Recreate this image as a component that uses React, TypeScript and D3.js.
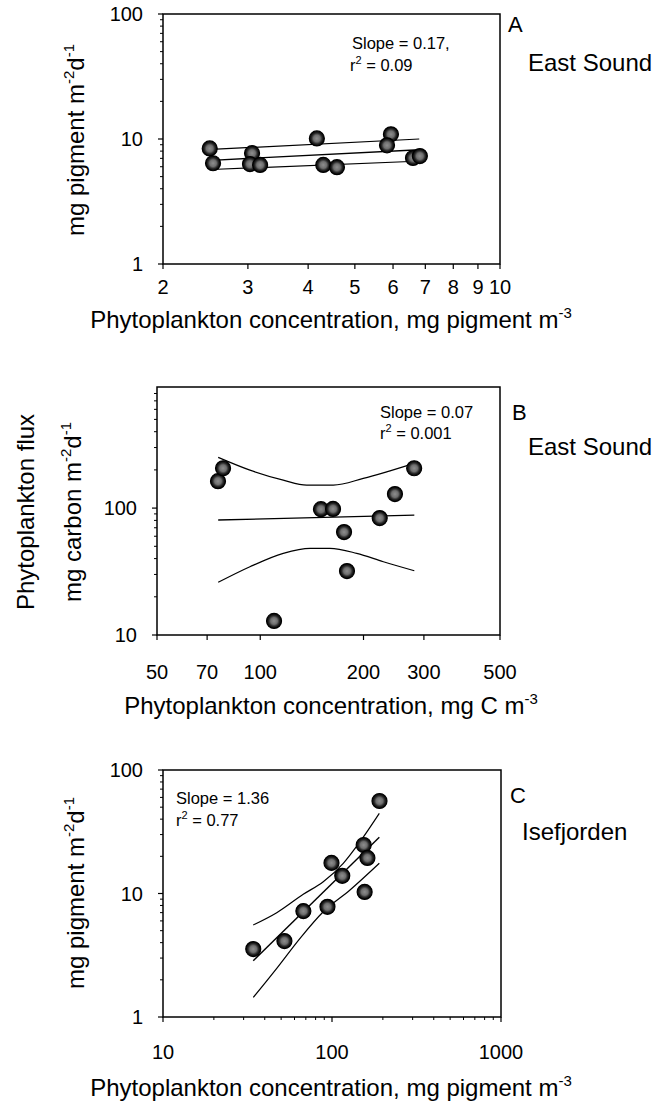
import React from "react";
import * as d3 from "d3";

// ---- Panel A: East Sound, pigment flux vs. pigment concentration ----
const aConc = [2.5, 2.54, 3.06, 3.03, 3.18, 4.17, 4.3, 4.59, 5.94, 5.83, 6.6, 6.82];
const aFlux = [8.4, 6.4, 7.7, 6.3, 6.2, 10.1, 6.2, 5.95, 10.9, 8.9, 7.05, 7.3];
const aFitX = [2.52, 6.8];
const aFitY = [6.75, 8.2];
const aUpperX = [2.52, 6.8];
const aUpperY = [8.25, 10.0];
const aLowerX = [2.52, 6.9];
const aLowerY = [5.7, 6.67];
const aXTicks = [2, 3, 4, 5, 6, 7, 8, 9, 10];
const aXLabels = ["2", "3", "4", "5", "6", "7", "8", "9", "10"];
const aYTicks = [1, 10, 100];
const aYLabels = ["1", "10", "100"];
const aYMinor = [2, 3, 4, 5, 6, 7, 8, 9, 20, 30, 40, 50, 60, 70, 80, 90];

// ---- Panel B: East Sound, carbon flux vs. carbon concentration ----
const bConc = [75.3, 77.9, 109.7, 150.3, 163, 175.5, 179, 223, 247, 281];
const bFlux = [163, 206, 12.9, 98, 98.5, 64.7, 31.9, 83.4, 129, 206];
const bFitX = [75.4, 281.3];
const bFitY = [80.5, 88.1];
const bUpperX = [75.4, 93.3, 116.7, 136.6, 163.3, 199.7, 239, 281.3];
const bUpperY = [250.8, 199, 166, 151.8, 151.8, 171.3, 196.7, 224.9];
const bLowerX = [75.4, 93.3, 116.7, 139.7, 159.6, 191.1, 228.5, 281.3];
const bLowerY = [26.0, 34.5, 44.0, 48.2, 48.2, 44.0, 37.8, 32.1];
const bXTicks = [50, 70, 100, 200, 300, 500];
const bXLabels = ["50", "70", "100", "200", "300", "500"];
const bYTicks = [10, 100];
const bYLabels = ["10", "100"];
const bYMinor = [20, 30, 40, 50, 60, 70, 80, 90, 200, 300, 400, 500, 600, 700, 800];

// ---- Panel C: Isefjorden, pigment flux vs. pigment concentration ----
const cConc = [34.2, 52.3, 67.7, 94, 99.3, 115, 154, 162, 156, 191];
const cFlux = [3.55, 4.12, 7.2, 7.8, 17.7, 13.9, 24.7, 19.4, 10.3, 56.1];
const cFitX = [34.2, 190.5];
const cFitY = [2.86, 28.5];
const cUpperX = [34.2, 47.1, 67.6, 88.8, 116.6, 146.5, 190.5];
const cUpperY = [5.56, 6.99, 9.85, 12.46, 17.56, 26.3, 44.6];
const cLowerX = [34.2, 47.1, 64.7, 88.8, 127.8, 190.5];
const cLowerY = [1.44, 2.48, 4.34, 7.12, 10.67, 17.56];
const cXTicks = [10, 100, 1000];
const cXLabels = ["10", "100", "1000"];
const cXMinor = [20, 30, 40, 50, 60, 70, 80, 90, 200, 300, 400, 500, 600, 700, 800, 900];
const cYTicks = [1, 10, 100];
const cYLabels = ["1", "10", "100"];
const cYMinor = [2, 3, 4, 5, 6, 7, 8, 9, 20, 30, 40, 50, 60, 70, 80, 90];

const FONT = "'Liberation Sans', Arial, Helvetica, sans-serif";

type Series = { x: number[]; y: number[] };

interface PanelProps {
  box: { left: number; right: number; top: number; bottom: number };
  xDomain: [number, number];
  yDomain: [number, number];
  conc: number[];
  flux: number[];
  fit: Series;
  upper: Series;
  lower: Series;
  xTicks: number[];
  xLabels: string[];
  xMinor: number[];
  yTicks: number[];
  yLabels: string[];
  yMinor: number[];
  xLabelY: number;
}

function Panel(p: PanelProps) {
  const { box } = p;
  const x = d3.scaleLog().domain(p.xDomain).range([box.left, box.right]);
  const y = d3.scaleLog().domain(p.yDomain).range([box.bottom, box.top]);
  const line = d3
    .line<[number, number]>()
    .x((d) => x(d[0]))
    .y((d) => y(d[1]))
    .curve(d3.curveMonotoneX);
  const path = (s: Series) => line(s.x.map((v, i) => [v, s.y[i]] as [number, number])) || "";

  return (
    <g>
      {/* frame */}
      <rect
        x={box.left}
        y={box.top}
        width={box.right - box.left}
        height={box.bottom - box.top}
        fill="none"
        stroke="#000"
        strokeWidth={1.5}
      />
      {/* x ticks */}
      {p.xTicks.map((t, i) => (
        <g key={"xt" + i}>
          <line x1={x(t)} x2={x(t)} y1={box.bottom} y2={box.bottom + 5} stroke="#000" strokeWidth={1.2} />
          <text x={x(t)} y={p.xLabelY} textAnchor="middle" fontSize={20} fontFamily={FONT}>
            {p.xLabels[i]}
          </text>
        </g>
      ))}
      {p.xMinor.map((t, i) => (
        <line key={"xm" + i} x1={x(t)} x2={x(t)} y1={box.bottom} y2={box.bottom + 3} stroke="#000" strokeWidth={1} />
      ))}
      {/* y ticks */}
      {p.yTicks.map((t, i) => (
        <g key={"yt" + i}>
          <line x1={box.left - 5} x2={box.left} y1={y(t)} y2={y(t)} stroke="#000" strokeWidth={1.2} />
          <text x={box.left - 20} y={y(t) + 7} textAnchor="end" fontSize={20} fontFamily={FONT}>
            {p.yLabels[i]}
          </text>
        </g>
      ))}
      {p.yMinor.map((t, i) => (
        <line key={"ym" + i} x1={box.left - 3} x2={box.left} y1={y(t)} y2={y(t)} stroke="#000" strokeWidth={1} />
      ))}
      {/* regression line and confidence band */}
      <path d={path(p.upper)} fill="none" stroke="#000" strokeWidth={1.2} />
      <path d={path(p.lower)} fill="none" stroke="#000" strokeWidth={1.2} />
      <path d={path(p.fit)} fill="none" stroke="#000" strokeWidth={1.4} />
      {/* observations */}
      {p.conc.map((c, i) => (
        <circle key={"pt" + i} cx={x(c)} cy={y(p.flux[i])} r={7.5} fill="url(#dotFill)" stroke="#000" strokeWidth={1.2} />
      ))}
    </g>
  );
}

export default function App() {
  const txt = { fontFamily: FONT, fill: "#000" } as const;
  return (
    <svg
      width={670}
      height={1108}
      viewBox="0 0 670 1108"
      style={{ position: "absolute", left: 0, top: 0, background: "#fff" }}
    >
      <defs>
        <radialGradient id="dotFill" cx="50%" cy="50%" r="50%">
          <stop offset="0%" stopColor="#8e8e8e" />
          <stop offset="45%" stopColor="#6e6e6e" />
          <stop offset="72%" stopColor="#262626" />
          <stop offset="100%" stopColor="#000" />
        </radialGradient>
      </defs>
      <rect width={670} height={1108} fill="#fff" />

      {/* Panel A */}
      <Panel
        box={{ left: 163, right: 500, top: 14, bottom: 264 }}
        xDomain={[2, 10]}
        yDomain={[1, 100]}
        conc={aConc}
        flux={aFlux}
        fit={{ x: aFitX, y: aFitY }}
        upper={{ x: aUpperX, y: aUpperY }}
        lower={{ x: aLowerX, y: aLowerY }}
        xTicks={aXTicks}
        xLabels={aXLabels}
        xMinor={[]}
        yTicks={aYTicks}
        yLabels={aYLabels}
        yMinor={aYMinor}
        xLabelY={294}
      />
      <text x={352} y={49} fontSize={16.5} {...txt}>Slope = 0.17,</text>
      <text x={350} y={71} fontSize={16.5} {...txt}>
        r<tspan dy={-7} fontSize={11}>2</tspan><tspan dy={7}> = 0.09</tspan>
      </text>
      <text x={508} y={32} fontSize={22} {...txt}>A</text>
      <text x={528} y={71} fontSize={24} {...txt}>East Sound</text>
      <text x={331} y={328} textAnchor="middle" fontSize={24} {...txt}>
        Phytoplankton concentration, mg pigment m<tspan dy={-10} fontSize={15}>-3</tspan>
      </text>
      <text transform="translate(84,140) rotate(-90)" textAnchor="middle" fontSize={24} {...txt}>
        mg pigment m<tspan dy={-10} fontSize={15}>-2</tspan><tspan dy={10}>d</tspan><tspan dy={-10} fontSize={15}>-1</tspan>
      </text>

      {/* Panel B */}
      <Panel
        box={{ left: 157, right: 500, top: 387, bottom: 635 }}
        xDomain={[50, 500]}
        yDomain={[10, 900]}
        conc={bConc}
        flux={bFlux}
        fit={{ x: bFitX, y: bFitY }}
        upper={{ x: bUpperX, y: bUpperY }}
        lower={{ x: bLowerX, y: bLowerY }}
        xTicks={bXTicks}
        xLabels={bXLabels}
        xMinor={[]}
        yTicks={bYTicks}
        yLabels={bYLabels}
        yMinor={bYMinor}
        xLabelY={679}
      />
      <text x={380} y={418} fontSize={16.5} {...txt}>Slope = 0.07</text>
      <text x={380} y={439} fontSize={16.5} {...txt}>
        r<tspan dy={-7} fontSize={11}>2</tspan><tspan dy={7}> = 0.001</tspan>
      </text>
      <text x={512} y={420} fontSize={22} {...txt}>B</text>
      <text x={528} y={455} fontSize={24} {...txt}>East Sound</text>
      <text x={331} y={714} textAnchor="middle" fontSize={24} {...txt}>
        Phytoplankton concentration, mg C m<tspan dy={-10} fontSize={15}>-3</tspan>
      </text>
      <text transform="translate(34,512) rotate(-90)" textAnchor="middle" fontSize={24} {...txt}>
        Phytoplankton flux
      </text>
      <text transform="translate(81,512) rotate(-90)" textAnchor="middle" fontSize={24} {...txt}>
        mg carbon m<tspan dy={-10} fontSize={15}>-2</tspan><tspan dy={10}>d</tspan><tspan dy={-10} fontSize={15}>-1</tspan>
      </text>

      {/* Panel C */}
      <Panel
        box={{ left: 163, right: 501, top: 770, bottom: 1017 }}
        xDomain={[10, 1000]}
        yDomain={[1, 100]}
        conc={cConc}
        flux={cFlux}
        fit={{ x: cFitX, y: cFitY }}
        upper={{ x: cUpperX, y: cUpperY }}
        lower={{ x: cLowerX, y: cLowerY }}
        xTicks={cXTicks}
        xLabels={cXLabels}
        xMinor={cXMinor}
        yTicks={cYTicks}
        yLabels={cYLabels}
        yMinor={cYMinor}
        xLabelY={1059}
      />
      <text x={176} y={804} fontSize={16.5} {...txt}>Slope = 1.36</text>
      <text x={176} y={826} fontSize={16.5} {...txt}>
        r<tspan dy={-7} fontSize={11}>2</tspan><tspan dy={7}> = 0.77</tspan>
      </text>
      <text x={510} y={803} fontSize={22} {...txt}>C</text>
      <text x={522} y={840} fontSize={24} {...txt}>Isefjorden</text>
      <text x={331} y={1096} textAnchor="middle" fontSize={24} {...txt}>
        Phytoplankton concentration, mg pigment m<tspan dy={-10} fontSize={15}>-3</tspan>
      </text>
      <text transform="translate(84,893) rotate(-90)" textAnchor="middle" fontSize={24} {...txt}>
        mg pigment m<tspan dy={-10} fontSize={15}>-2</tspan><tspan dy={10}>d</tspan><tspan dy={-10} fontSize={15}>-1</tspan>
      </text>
    </svg>
  );
}
